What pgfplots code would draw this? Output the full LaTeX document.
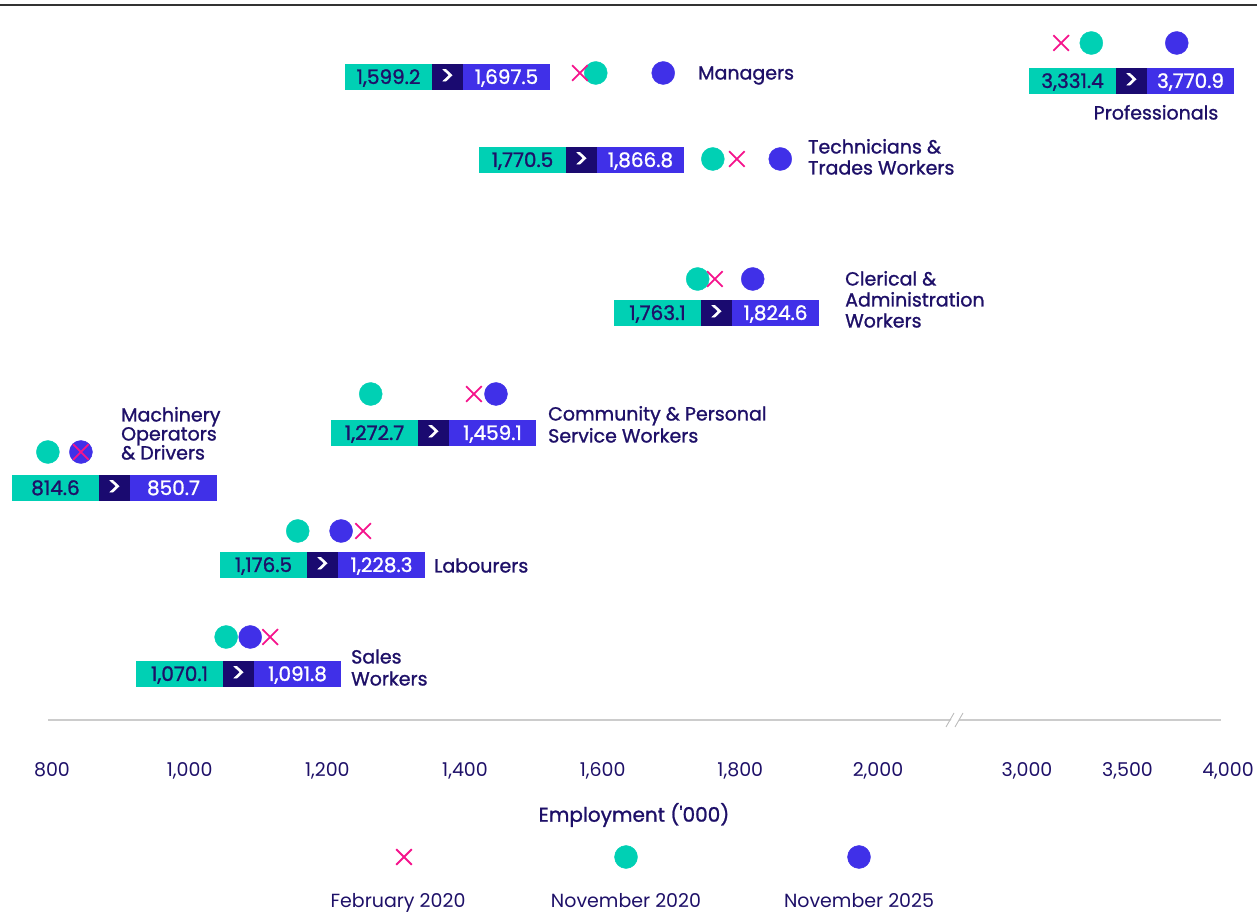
\documentclass[border=0pt]{standalone}
\usepackage{fontspec}
\setmainfont{Poppins}
\newfontfamily\medfont{Poppins}[FakeBold=1.2]
\newfontfamily\gtfont{Poppins}[FakeBold=2.5]
\usepackage{pgfplots}
\pgfplotsset{compat=1.18}

\definecolor{cteal}{RGB}{0,208,180}
\definecolor{cblue}{RGB}{64,48,232}
\definecolor{cnavy}{RGB}{30,16,104}
\definecolor{cbox}{RGB}{26,10,112}
\definecolor{cpink}{RGB}{245,20,140}
\definecolor{caxis}{RGB}{204,204,204}

\newcommand{\labfont}{\medfont\fontsize{19}{22}\selectfont}
\newcommand{\boxfont}{\medfont\fontsize{20}{22}\selectfont}
\newcommand{\regfont}{\fontsize{19}{21}\selectfont}

% value box: left edge (px), centre (px from top), Nov 2020, Nov 2025
\newcommand{\valbox}[4]{%
  \fill[cteal] (#1,{899-#2}) rectangle +(87,26);
  \fill[cbox] ({#1+87},{899-#2}) rectangle +(31,26);
  \fill[cblue] ({#1+118},{899-#2}) rectangle +(87,26);
  \node[font=\boxfont, text=cnavy, anchor=base, inner sep=0pt] at ({#1+43.5},{905-#2}) {#3};
  \node[font=\gtfont\fontsize{25}{25}\selectfont, text=white, anchor=center, inner sep=0pt] at ({#1+102.5},{912-#2}) {>};
  \node[font=\boxfont, text=white, anchor=base, inner sep=0pt] at ({#1+161.5},{905-#2}) {#4};
}
% one label line: left edge (px), centre of capitals (px from top)
\newcommand{\lab}[3]{%
  \node[font=\labfont, text=cnavy, anchor=base west, inner sep=0pt] at (#1,{905.5-#2}) {#3};
}

\begin{document}
\begin{tikzpicture}[x=1pt,y=1pt]
\useasboundingbox (0,0) rectangle (1257,912);
\begin{axis}[
    at={(48pt,192pt)}, anchor=south west,
    scale only axis, width=1184pt, height=715pt,
    x coord trafo/.code={\pgfmathparse{ifthenelse(#1>2500,1027+(#1-3000)*0.201,52+(#1-800)*0.68833)}},
    xmin=794.19, xmax=4019.9, ymin=0, ymax=715,
    axis line style={draw=none}, major tick length=0pt, ytick=\empty,
    xtick={800,1000,1200,1400,1600,1800,2000,3000,3500,4000},
    xticklabels={800,{1,000},{1,200},{1,400},{1,600},{1,800},{2,000},{3,000},{3,500},{4,000}},
    xticklabel style={anchor=base, yshift=-57pt, font=\regfont, text=cnavy},
    xlabel={Employment ('000)},
    xlabel style={at={(axis description cs:0.4949,0)}, anchor=center, yshift=-95pt,
        font=\medfont\fontsize{20}{22}\selectfont, text=cnavy},
    clip=false,
]
% y = 720 - pixel row; x in thousands employed
\addplot[only marks, mark=*, mark size=11.5pt, color=cteal] coordinates {
    (3320,677) (1590,647) (1760,561) (1738,441) (1263,326) (794,268) (1157,189) (1053,83)};
\addplot[only marks, mark=*, mark size=11.5pt, color=cblue] coordinates {
    (3745,677) (1688,647) (1858,561) (1818,441) (1445,326) (842,268) (1220,189) (1088,83)};
\addplot[only marks, mark=x, mark size=11pt, line width=1.8pt, color=cpink] coordinates {
    (3170,677) (1567,647) (1795,561) (1763,441) (1413,326) (842,268) (1252,189) (1117,83)};
% legend samples
\addplot[forget plot, only marks, mark=x, mark size=11pt, line width=1.8pt, color=cpink] coordinates {(1311.4,-137)};
\addplot[forget plot, only marks, mark=*, mark size=11.5pt, color=cteal] coordinates {(1633.9,-137)};
\addplot[forget plot, only marks, mark=*, mark size=11.5pt, color=cblue] coordinates {(1972.4,-137)};
\end{axis}

% axes lines
\draw[black!80, line width=1.5pt] (0,907) -- (1257,907);
\draw[caxis, line width=2pt] (48,192) -- (1221,192);
\fill[white] (947,186) -- (955,186) -- (963,198) -- (955,198) -- cycle;
\draw[caxis!80!gray, line width=0.9pt] (946,185) -- (954,199) (955,185) -- (963,199);

% value boxes
\valbox{1029}{81}{3,331.4}{3,770.9}
\valbox{345}{77}{1,599.2}{1,697.5}
\valbox{479}{160}{1,770.5}{1,866.8}
\valbox{614}{313}{1,763.1}{1,824.6}
\valbox{331}{433}{1,272.7}{1,459.1}
\valbox{12}{488}{814.6}{850.7}
\valbox{220}{565}{1,176.5}{1,228.3}
\valbox{136}{674}{1,070.1}{1,091.8}

% category labels
\node[font=\labfont, text=cnavy, anchor=base, inner sep=0pt] at (1156,{905.5-113}) {Professionals};
\lab{698}{73}{Managers}
\lab{808}{147}{Technicians \&}
\lab{808}{168}{Trades Workers}
\lab{845}{279}{Clerical \&}
\lab{845}{300}{Administration}
\lab{845}{321}{Workers}
\lab{548}{414}{Community \& Personal}
\lab{548}{436}{Service Workers}
\lab{121}{415}{Machinery}
\lab{121}{434}{Operators}
\lab{121}{453}{\& Drivers}
\lab{434}{566}{Labourers}
\lab{351}{657}{Sales}
\lab{351}{679}{Workers}

% legend labels
\node[font=\regfont, text=cnavy, anchor=base, inner sep=0pt] at (398,4.5) {February 2020};
\node[font=\regfont, text=cnavy, anchor=base, inner sep=0pt] at (626,4.5) {November 2020};
\node[font=\regfont, text=cnavy, anchor=base, inner sep=0pt] at (859,4.5) {November 2025};
\end{tikzpicture}
\end{document}
